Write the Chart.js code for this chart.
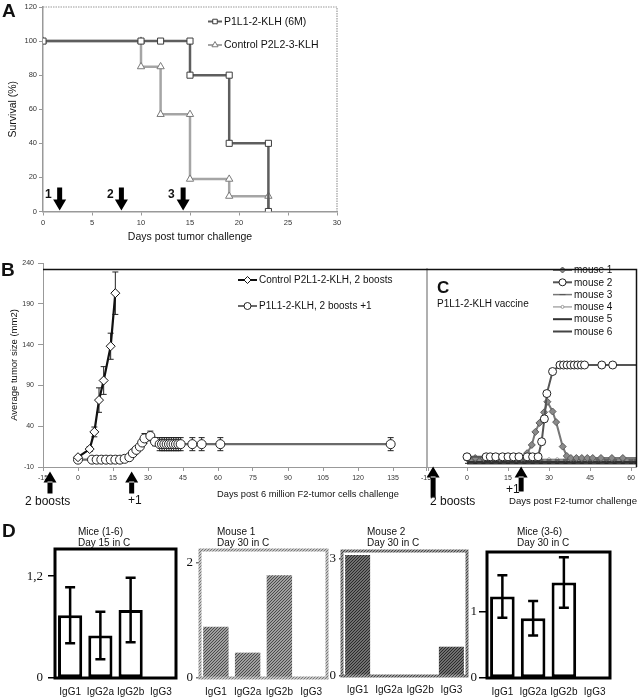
<!DOCTYPE html>
<html>
<head>
<meta charset="utf-8">
<title>Tumor challenge figure</title>
<script src="https://cdn.jsdelivr.net/npm/chart.js@4.4.1/dist/chart.umd.min.js"></script>
<style>
  body { margin: 0; background: #fff; }
  #fig { position: relative; width: 639px; height: 699px; overflow: hidden;
         font-family: "Liberation Sans", Arial, sans-serif; color: #111; }
  #fig canvas { position: absolute; }
  .t { position: absolute; white-space: nowrap; line-height: 1; font-size: 10px; }
  .p { font-weight: bold; font-size: 19px; }
  .n { font-weight: bold; font-size: 12px; }
  .b { font-size: 12px; }
  .h { line-height: 11px; }
</style>
</head>
<body>
<div id="fig">
  <canvas id="chartA"></canvas>
  <canvas id="chartB"></canvas>
  <canvas id="chartC"></canvas>
  <canvas id="d1"></canvas>
  <canvas id="d2"></canvas>
  <canvas id="d3"></canvas>
  <canvas id="d4"></canvas>

  <div class="t p" style="left:2px;top:0.5px">A</div>
  <div class="t n" style="left:45px;top:187.5px">1</div>
  <div class="t n" style="left:107px;top:187.5px">2</div>
  <div class="t n" style="left:168px;top:187.5px">3</div>

  <div class="t p" style="left:1px;top:259.5px">B</div>
  <div class="t" style="left:217px;top:489.5px;font-size:9.3px">Days post 6 million F2-tumor cells challenge</div>
  <div class="t b" style="left:25px;top:494.5px">2 boosts</div>
  <div class="t b" style="left:128px;top:494px">+1</div>

  <div class="t p" style="left:437px;top:279px;font-size:17px">C</div>
  <div class="t" style="left:437px;top:299px">P1L1-2-KLH vaccine</div>
  <div class="t b" style="left:430px;top:494.5px">2 boosts</div>
  <div class="t b" style="left:506px;top:483px">+1</div>
  <div class="t" style="left:509px;top:495.8px;font-size:9.6px">Days post F2-tumor challenge</div>

  <div class="t p" style="left:2px;top:520.5px">D</div>
  <div class="t h" style="left:78px;top:526px">Mice (1-6)<br>Day 15 in C</div>
  <div class="t h" style="left:217px;top:526px">Mouse 1<br>Day 30 in C</div>
  <div class="t h" style="left:367px;top:526px">Mouse 2<br>Day 30 in C</div>
  <div class="t h" style="left:517px;top:526px">Mice (3-6)<br>Day 30 in C</div>
</div>

<script>
// A: survival after tumor challenge (step curves)
const survDaysVac = [0, 10, 12, 15, 15, 19, 19, 23, 23];
const survVac = [100, 100, 100, 100, 80, 80, 40, 40, 0];
const survDaysCtrl = [0, 10, 10, 12, 12, 15, 15, 19, 19, 23, 23];
const survCtrl = [100, 100, 85, 85, 57, 57, 19, 19, 9, 9, 0];
const vaccinationDays = [1.7, 8, 14.3];

// B: average tumor size
const bDaysCtrl = [0, 5, 7, 9, 11, 14, 16];
const bCtrl = [2, 12, 33, 72, 96, 138, 203];
const bCtrlErr = [1, 3, 6, 15, 17, 16, 26];
const bDaysVac = [0, 6, 8, 10, 12, 14, 16, 18, 20, 22, 23.5, 25, 26.5, 27.5, 28.5, 31, 33,
                  35, 36, 37, 38, 39, 40, 41, 42, 43, 44, 49, 53, 61, 134];
const bVac = [-1, -1, -1, -1, -1, -1, -1, -1, 0, 2, 7, 11, 15, 20, 25, 28, 21,
              18, 18, 18, 18, 18, 18, 18, 18, 18, 18, 18, 18, 18, 18];
const bVacErr = [0, 0, 0, 0, 0, 0, 0, 0, 0, 0, 0, 0, 0, 2, 6, 6, 5,
                 8, 8, 8, 8, 8, 8, 8, 8, 8, 8, 8, 8, 8, 8];
const bBoostDays = [-12, 23];

// C: individual mice
const cDaysM1 = [0, 3, 6, 9, 12, 15, 18, 20, 22, 23.7, 25, 26.5, 28.2, 29.4, 31.3, 32.6, 35, 36.5,
                 38, 40, 42, 44, 46, 49, 53, 57, 62];
const cM1 = [1, 1, 1, 1, 1, 1, 1, 1, 7, 17, 33, 44, 57, 70, 58, 45, 15, 3.5,
             1, 1, 1, 1, 1, 1, 1, 1, 1];
const cDaysM2 = [0, 7, 8.5, 10.5, 13, 15, 17, 19, 22, 24, 26, 27.3, 28.3, 29.2, 31.3,
                 34, 35.3, 36.6, 37.9, 39.2, 40.5, 41.8, 43, 49.3, 53.3, 62];
const cM2 = [2.5, 2.5, 2.5, 2.5, 2.5, 2.5, 2.5, 2.5, 2.5, 2.5, 2.5, 21, 49, 80, 107,
             115, 115, 115, 115, 115, 115, 115, 115, 115, 115, 115];
const cDaysBase = [0, 3, 6, 9, 12, 15, 18, 21, 24, 27, 30, 33, 36, 39, 42, 45, 48, 51, 54, 57, 60, 62];
const cM3 = [-1.5, -1.5, -1.5, -1.5, -1.5, -1.5, -1.5, -1.5, -1.5, -1.5, -1.5, -1.5, -1.5, -1.5, -1.5, -1.5, -1.5, -1.5, -1.5, -1.5, -1.5, -1.5];
const cM4 = [-0.5, -0.5, -0.5, -0.5, -0.5, -0.5, -0.5, -0.5, -0.5, -0.5, -0.5, -0.5, -0.5, -0.5, -0.5, -0.5, -0.5, -0.5, -0.5, -0.5, -0.5, -0.5];
const cM5 = [-4, -4, -4, -4, -4, -4, -4, -4, -4, -4, -4, -4, -4, -4, -4, -4, -4, -4, -4, -4, -4, -4];
const cM6 = [-5.5, -5.5, -5.5, -5.5, -5.5, -5.5, -5.5, -5.5, -5.5, -5.5, -5.5, -5.5, -5.5, -5.5, -5.5, -5.5, -5.5, -5.5, -5.5, -5.5, -5.5, -5.5];
const cBoostDays = [-12.4, 19.8];

// D: isotypes
const isotypes = ['IgG1', 'IgG2a', 'IgG2b', 'IgG3'];
const dDay15 = [0.74, 0.50, 0.80, 0];
const dDay15Err = [0.33, 0.28, 0.38, 0];
const dMouse1 = [0.89, 0.44, 1.78, 0];
const dMouse2 = [3.1, 0, 0, 0.75];
const dMice36 = [1.23, 0.90, 1.44, 0];
const dMice36Err = [0.32, 0.26, 0.38, 0];
const dTicks15 = [0, 1.2];
const dTicksM1 = [0, 2];
const dTicksM2 = [0, 3];
const dTicks36 = [0, 1];

Chart.defaults.font.family = '"Liberation Sans", Arial, sans-serif';
Chart.defaults.color = '#222';
Chart.defaults.animation = false;
Chart.defaults.responsive = false;
Chart.defaults.plugins.legend.display = false;
Chart.defaults.plugins.tooltip.enabled = false;

const pts = (xs, ys) => xs.map((x, i) => ({ x: x, y: ys[i] }));
const fitX = h => s => { s.height = h; s.paddingLeft = 0; s.paddingRight = 0; };
const fitY = w => s => { s.width = w; s.paddingTop = 0; s.paddingBottom = 0; };

// put a canvas at box [x, y, w, h] and work out padding so the plot area lands on area [l, t, r, b]
function place(id, box, area) {
  const cv = document.getElementById(id);
  cv.width = box[2];
  cv.height = box[3];
  cv.style.left = box[0] + 'px';
  cv.style.top = box[1] + 'px';
  return {
    padding: { left: 0, top: area[1] - box[1], right: box[0] + box[2] - area[2], bottom: 0 },
    yw: area[0] - box[0],
    xh: box[1] + box[3] - area[3]
  };
}

function hatch(bg, fg) {
  const c = document.createElement('canvas');
  c.width = 3; c.height = 3;
  const x = c.getContext('2d');
  x.fillStyle = bg;
  x.fillRect(0, 0, 3, 3);
  x.fillStyle = fg;
  x.fillRect(0, 2, 1, 1);
  x.fillRect(1, 1, 1, 1);
  x.fillRect(2, 0, 1, 1);
  return x.createPattern(c, 'repeat');
}

function drawMark(ctx, style, x, y, r) {
  ctx.beginPath();
  if (style === 'circle') ctx.arc(x, y, r, 0, Math.PI * 2);
  else if (style === 'rect') ctx.rect(x - r * 0.71, y - r * 0.71, r * 1.42, r * 1.42);
  else if (style === 'rectRot') { ctx.moveTo(x - r, y); ctx.lineTo(x, y - r); ctx.lineTo(x + r, y); ctx.lineTo(x, y + r); ctx.closePath(); }
  else if (style === 'triangle') { ctx.moveTo(x, y - r); ctx.lineTo(x + r * 0.87, y + r * 0.5); ctx.lineTo(x - r * 0.87, y + r * 0.5); ctx.closePath(); }
  else if (style === 'line') { ctx.moveTo(x - r, y); ctx.lineTo(x + r, y); ctx.stroke(); return; }
  else return;
  ctx.fill();
  ctx.stroke();
}

function legendAt(o) {
  return {
    id: 'legendAt',
    afterDatasetsDraw(chart) {
      const ctx = chart.ctx;
      ctx.save();
      ctx.font = o.font + 'px "Liberation Sans", Arial, sans-serif';
      ctx.textBaseline = 'middle';
      chart.data.datasets.forEach((ds, i) => {
        const y = o.y + i * o.step;
        ctx.strokeStyle = ds.borderColor;
        ctx.lineWidth = Math.min(ds.borderWidth, 2);
        ctx.beginPath(); ctx.moveTo(o.x, y); ctx.lineTo(o.x + o.line, y); ctx.stroke();
        if (ds.legendR) {
          ctx.fillStyle = ds.pointBackgroundColor;
          ctx.strokeStyle = ds.pointBorderColor;
          ctx.lineWidth = 1;
          drawMark(ctx, ds.pointStyle, o.x + o.line / 2, y, ds.legendR);
        }
        ctx.fillStyle = '#111';
        ctx.fillText(ds.label, o.x + o.line + 2, y + 0.5);
      });
      ctx.restore();
    }
  };
}

function errorBars(o) {
  const draw = chart => {
    const ctx = chart.ctx, ys = chart.scales.y;
    ctx.save();
    ctx.strokeStyle = o.color;
    ctx.lineWidth = o.width;
    chart.data.datasets.forEach((ds, di) => {
      if (!ds.errors) return;
      const meta = chart.getDatasetMeta(di);
      ds.data.forEach((d, i) => {
        const e = ds.errors[i];
        if (!e) return;
        const v = typeof d === 'number' ? d : d.y;
        const x = meta.data[i].x;
        const y1 = ys.getPixelForValue(v + e), y2 = ys.getPixelForValue(v - e);
        ctx.beginPath();
        ctx.moveTo(x, y1); ctx.lineTo(x, y2);
        ctx.moveTo(x - o.cap, y1); ctx.lineTo(x + o.cap, y1);
        ctx.moveTo(x - o.cap, y2); ctx.lineTo(x + o.cap, y2);
        ctx.stroke();
      });
    });
    ctx.restore();
  };
  return o.under ? { id: 'errorBars', beforeDatasetsDraw: draw } : { id: 'errorBars', afterDatasetsDraw: draw };
}

function arrows(o) {
  return {
    id: 'arrows',
    afterDraw(chart) {
      const ctx = chart.ctx, xs = chart.scales.x, a = chart.chartArea;
      ctx.save();
      ctx.fillStyle = '#000';
      o.days.forEach((d, i) => {
        const x = xs.getPixelForValue(d);
        const tip = a.bottom + o.off;
        const len = o.len[i];
        ctx.beginPath();
        if (o.dir === 'down') {
          ctx.rect(x - 2.5, tip - len, 5, len - 10);
          ctx.moveTo(x - 6.5, tip - 11); ctx.lineTo(x + 6.5, tip - 11); ctx.lineTo(x, tip);
        } else {
          ctx.rect(x - 2.5, tip + 10, 5, len - 10);
          ctx.moveTo(x - 6.5, tip + 11); ctx.lineTo(x + 6.5, tip + 11); ctx.lineTo(x, tip);
        }
        ctx.closePath();
        ctx.fill();
      });
      ctx.restore();
    }
  };
}

const dottedBox = {
  id: 'dottedBox',
  afterDraw(chart) {
    const ctx = chart.ctx, a = chart.chartArea;
    ctx.save();
    ctx.strokeStyle = '#9a9a9a';
    ctx.lineWidth = 1.2;
    ctx.setLineDash([1.5, 1]);
    ctx.beginPath();
    ctx.moveTo(a.left, a.top); ctx.lineTo(a.right, a.top); ctx.lineTo(a.right, a.bottom);
    ctx.stroke();
    ctx.restore();
  }
};

function topRule(o) {
  return {
    id: 'topRule',
    afterDraw(chart) {
      const ctx = chart.ctx, a = chart.chartArea, y = chart.scales.y.getPixelForValue(o.value);
      ctx.save();
      if (o.side) {
        ctx.strokeStyle = '#b0b0b0';
        ctx.lineWidth = 2;
        ctx.beginPath(); ctx.moveTo(a.left + 1, y); ctx.lineTo(a.left + 1, a.bottom); ctx.stroke();
      }
      ctx.strokeStyle = '#111';
      ctx.lineWidth = 1.5;
      ctx.beginPath();
      ctx.moveTo(a.left, y); ctx.lineTo(a.right, y);
      if (o.side) ctx.lineTo(a.right, a.bottom);
      ctx.stroke();
      ctx.restore();
    }
  };
}

function boxFrame(o) {
  return {
    id: 'boxFrame',
    afterDraw(chart) {
      const ctx = chart.ctx, a = chart.chartArea;
      ctx.save();
      ctx.strokeStyle = o.color;
      ctx.lineWidth = o.width;
      ctx.strokeRect(a.left, a.top, a.right - a.left, a.bottom - a.top);
      ctx.restore();
    }
  };
}

const tickFont = size => ({ size: size });

// ---------- A
const gA = place('chartA', [0, 0, 345, 250], [43, 7, 337, 211.5]);
new Chart('chartA', {
  type: 'line',
  data: {
    datasets: [
      { label: 'P1L1-2-KLH (6M)', data: pts(survDaysVac, survVac), borderColor: '#5e5e5e', borderWidth: 2.5,
        pointStyle: 'rect', pointRadius: 4.3, pointBackgroundColor: '#fff', pointBorderColor: '#3c3c3c',
        pointBorderWidth: 1, legendR: 3.2 },
      { label: 'Control P2L2-3-KLH', data: pts(survDaysCtrl, survCtrl), borderColor: '#a5a5a5', borderWidth: 2.5,
        pointStyle: 'triangle', pointRadius: 4.2, pointBackgroundColor: '#fff', pointBorderColor: '#7a7a7a',
        pointBorderWidth: 1, legendR: 3.5 }
    ]
  },
  options: {
    devicePixelRatio: 1,
    layout: { padding: gA.padding, autoPadding: false },
    scales: {
      x: {
        type: 'linear', min: 0, max: 30, afterFit: fitX(gA.xh),
        ticks: { stepSize: 5, font: tickFont(7.5), color: '#333', padding: 3 },
        grid: { drawOnChartArea: false, tickLength: 4, color: '#999' },
        border: { color: '#999', width: 1.5 },
        title: { display: true, text: 'Days post tumor challenge', font: { size: 10.5 }, color: '#111',
                 padding: { top: 0, bottom: 7 } }
      },
      y: {
        min: 0, max: 120, afterFit: fitY(gA.yw),
        ticks: { stepSize: 20, font: tickFont(7.5), color: '#333', padding: 2 },
        grid: { drawOnChartArea: false, tickLength: 4, color: '#999' },
        border: { color: '#999', width: 1.5 },
        title: { display: true, text: 'Survival (%)', font: { size: 10.5 }, color: '#111',
                 padding: { top: 7, bottom: 0 } }
      }
    }
  },
  plugins: [dottedBox, legendAt({ x: 208, y: 21.5, step: 23.5, line: 14, font: 10.5 }),
            arrows({ days: vaccinationDays, dir: 'down', off: -1, len: [23, 23, 23] })]
});

// ---------- B
const gB = place('chartB', [0, 250, 430, 260], [43, 263, 428, 467]);
new Chart('chartB', {
  type: 'line',
  data: {
    datasets: [
      { label: 'Control P2L1-2-KLH, 2 boosts', data: pts(bDaysCtrl, bCtrl), errors: bCtrlErr,
        borderColor: '#111', borderWidth: 2.2, pointStyle: 'rectRot', pointRadius: 4.5,
        pointBackgroundColor: '#fff', pointBorderColor: '#111', pointBorderWidth: 1, legendR: 3.5, order: 0 },
      { label: 'P1L1-2-KLH, 2 boosts +1', data: pts(bDaysVac, bVac), errors: bVacErr,
        borderColor: '#6a6a6a', borderWidth: 2.2, pointStyle: 'circle', pointRadius: 4.5,
        pointBackgroundColor: '#fff', pointBorderColor: '#222', pointBorderWidth: 1, legendR: 3.5, order: 1 }
    ]
  },
  options: {
    devicePixelRatio: 1,
    layout: { padding: gB.padding, autoPadding: false },
    scales: {
      x: {
        type: 'linear', min: -15, max: 150, afterFit: fitX(gB.xh),
        ticks: { stepSize: 15, font: tickFont(7), color: '#333', padding: 3,
                 callback: v => (v === 150 ? '' : v) },
        grid: { drawOnChartArea: false, tickLength: 4, color: '#999' },
        border: { color: '#999', width: 1 }
      },
      y: {
        min: -10, max: 240, afterFit: fitY(gB.yw),
        ticks: { stepSize: 50, font: tickFont(7), color: '#333', padding: 4 },
        grid: { drawOnChartArea: false, tickLength: 5, color: '#999' },
        border: { color: '#999', width: 1 },
        title: { display: true, text: 'Average tumor size (mm2)', font: { size: 9.5 }, color: '#111',
                 padding: { top: 9, bottom: 0 } }
      }
    }
  },
  plugins: [errorBars({ color: '#222', width: 1, cap: 3, under: true }), topRule({ value: 232 }),
            legendAt({ x: 238, y: 30, step: 26, line: 19, font: 10 }),
            arrows({ days: bBoostDays, dir: 'up', off: 4.5, len: [22, 22] })]
});

// ---------- C
const gC = place('chartC', [420, 250, 219, 260], [426, 263, 636.5, 467]);
const m1Fill = '#8a8a8a';
new Chart('chartC', {
  type: 'line',
  data: {
    datasets: [
      { label: 'mouse 1', data: pts(cDaysM1, cM1), borderColor: '#777', borderWidth: 2,
        pointStyle: 'rectRot', pointRadius: cDaysM1.map(d => (d > 60 ? 0 : 3.5)),
        pointBackgroundColor: m1Fill, pointBorderColor: '#5a5a5a', pointBorderWidth: 1, legendR: 3, order: 1 },
      { label: 'mouse 2', data: pts(cDaysM2, cM2), borderColor: '#555', borderWidth: 2,
        pointStyle: 'circle', pointRadius: cDaysM2.map(d => (d > 60 ? 0 : 4)),
        pointBackgroundColor: '#fff', pointBorderColor: '#222', pointBorderWidth: 1, legendR: 3.5, order: 0 },
      { label: 'mouse 3', data: pts(cDaysBase, cM3), borderColor: '#777', borderWidth: 1.5,
        pointStyle: 'line', pointRadius: 2.5, pointBackgroundColor: '#777', pointBorderColor: '#555',
        pointBorderWidth: 1.5, legendR: 3, order: 2 },
      { label: 'mouse 4', data: pts(cDaysBase, cM4), borderColor: '#aaa', borderWidth: 1.5,
        pointStyle: 'circle', pointRadius: 1.5, pointBackgroundColor: '#fff', pointBorderColor: '#999',
        pointBorderWidth: 1, legendR: 1.5, order: 2 },
      { label: 'mouse 5', data: pts(cDaysBase, cM5), borderColor: '#333', borderWidth: 2.5,
        pointRadius: 0, order: 3 },
      { label: 'mouse 6', data: pts(cDaysBase, cM6), borderColor: '#444', borderWidth: 2.5,
        pointStyle: 'line', pointRadius: 2, pointBorderColor: '#222', pointBackgroundColor: '#222',
        pointBorderWidth: 1, order: 3 }
    ]
  },
  options: {
    devicePixelRatio: 1,
    layout: { padding: gC.padding, autoPadding: false },
    scales: {
      x: {
        type: 'linear', min: -15, max: 62, afterFit: fitX(gC.xh),
        ticks: { stepSize: 15, includeBounds: false, font: tickFont(7), color: '#333', padding: 3 },
        grid: { drawOnChartArea: false, tickLength: 4, color: '#999' },
        border: { color: '#999', width: 1 }
      },
      y: {
        min: -10, max: 240, afterFit: fitY(gC.yw),
        ticks: { display: false },
        grid: { display: false },
        border: { display: false }
      }
    }
  },
  plugins: [legendAt({ x: 133, y: 20, step: 12.3, line: 19, font: 10 }), topRule({ value: 232, side: true }),
            arrows({ days: cBoostDays, dir: 'up', off: -0.5, len: [31, 25] })]
});

// ---------- D
const greyBar = hatch('#a0a0a0', '#4a4a4a');
const greyEdge = hatch('#c4c4c4', '#777');
const darkBar = hatch('#707070', '#2a2a2a');
const darkEdge = hatch('#9a9a9a', '#444');

function dPanel(id, box, area, vals, errs, ticks, yMax, look) {
  const g = place(id, box, area);
  return new Chart(id, {
    type: 'bar',
    data: {
      labels: isotypes,
      datasets: [{ data: vals, errors: errs, backgroundColor: look.fill, borderColor: look.edge,
                   borderWidth: look.edgeW, borderSkipped: false, barPercentage: 0.8, categoryPercentage: 1 }]
    },
    options: {
      devicePixelRatio: 1,
      layout: { padding: g.padding, autoPadding: false },
      scales: {
        x: {
          afterFit: fitX(g.xh),
          grid: { display: false, drawTicks: false },
          border: { display: false },
          ticks: { font: { size: 10 }, color: '#111', padding: 8, maxRotation: 0, autoSkip: false }
        },
        y: {
          min: 0, max: yMax, afterFit: fitY(g.yw),
          afterBuildTicks: s => { s.ticks = ticks.map(v => ({ value: v })); },
          grid: { drawOnChartArea: false, tickLength: look.tickLen, color: look.tickColor, lineWidth: 1.5 },
          border: { display: false },
          ticks: { font: { family: '"Liberation Serif", "Times New Roman", serif', size: 13 }, color: '#111',
                   padding: look.tickPad, callback: v => String(v).replace('.', ',') }
        }
      }
    },
    plugins: [errorBars({ color: '#000', width: 2.5, cap: 5 }), boxFrame({ color: look.frame, width: 3 })]
  });
}

const openLook = { fill: '#fff', edge: '#000', edgeW: 3, frame: '#000', tickColor: '#000' };
dPanel('d1', [15, 545, 165, 154], [55, 549, 176, 678], dDay15, dDay15Err, dTicks15, 1.52,
       Object.assign({ tickLen: 7, tickPad: 5 }, openLook));
dPanel('d2', [180, 545, 150, 154], [200, 550, 327, 678], dMouse1, null, dTicksM1, 2.22,
       { fill: greyBar, edge: greyBar, edgeW: 0, frame: greyEdge, tickColor: '#777', tickLen: 4, tickPad: 3 });
dPanel('d3', [320, 545, 150, 154], [342, 551, 467, 676], dMouse2, null, dTicksM2, 3.2,
       { fill: darkBar, edge: darkBar, edgeW: 0, frame: darkEdge, tickColor: '#555', tickLen: 3, tickPad: 3 });
dPanel('d4', [470, 545, 145, 154], [487, 552, 610, 678], dMice36, dMice36Err, dTicks36, 1.9,
       Object.assign({ tickLen: 8, tickPad: 2 }, openLook));
</script>
</body>
</html>
